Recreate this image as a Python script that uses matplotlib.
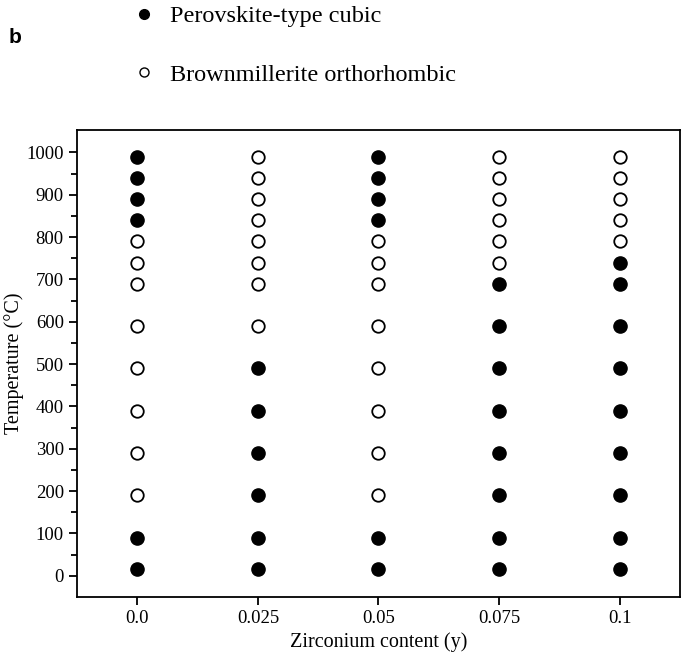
import matplotlib
matplotlib.use("Agg")
import matplotlib.pyplot as plt
import numpy as np

plt.rcParams['font.family'] = ['Liberation Serif', 'DejaVu Serif']

# zirconium content (categorical positions)
zr_labels = ['0.0', '0.025', '0.05', '0.075', '0.1']
temps = [990, 940, 890, 840, 790, 740, 690, 590, 490, 390, 290, 190, 90, 15]

# 1 = perovskite-type cubic, 0 = brownmillerite orthorhombic (same order as temps)
phase_00 = [1, 1, 1, 1, 0, 0, 0, 0, 0, 0, 0, 0, 1, 1]
phase_025 = [0, 0, 0, 0, 0, 0, 0, 0, 1, 1, 1, 1, 1, 1]
phase_05 = [1, 1, 1, 1, 0, 0, 0, 0, 0, 0, 0, 0, 1, 1]
phase_075 = [0, 0, 0, 0, 0, 0, 1, 1, 1, 1, 1, 1, 1, 1]
phase_10 = [0, 0, 0, 0, 0, 1, 1, 1, 1, 1, 1, 1, 1, 1]
phases = [phase_00, phase_025, phase_05, phase_075, phase_10]

fig = plt.figure(figsize=(6.85, 6.6), dpi=100)
ax = fig.add_axes([0.1124, 0.0955, 0.8803, 0.7075])

t = np.array(temps)
for i, ph in enumerate(phases):
    ph = np.array(ph)
    xs = np.full(len(t), i)
    ax.plot(xs[ph == 1], t[ph == 1], 'o', color='black', ms=9.5, mew=1)
    ax.plot(xs[ph == 0], t[ph == 0], 'o', mfc='white', mec='black', ms=9, mew=1.3)

ax.set_xlim(-0.5, 4.5)
ax.set_ylim(-50, 1053)
ax.set_xticks(range(len(zr_labels)))
ax.set_xticklabels(zr_labels)
ax.set_yticks(range(0, 1001, 100))
ax.set_yticks(range(50, 1001, 100), minor=True)
ax.tick_params(axis='both', direction='out', labelsize=13.5, width=1.3, length=6)
ax.tick_params(axis='y', which='minor', direction='out', width=1.3, length=4)
for s in ax.spines.values():
    s.set_linewidth(1.3)
ax.set_xlabel('Zirconium content (y)', fontsize=14.5)
ax.set_ylabel('Temperature (°C)', fontsize=14.5, labelpad=2)

# legend drawn above the axes
h1, = ax.plot([], [], 'o', color='black', ms=7)
h2, = ax.plot([], [], 'o', mfc='white', mec='black', ms=6.5, mew=1)
fig.legend([h1, h2], ['Perovskite-type cubic', 'Brownmillerite orthorhombic'],
           loc='upper left', bbox_to_anchor=(0.16, 1.025), frameon=False,
           fontsize=17.5, labelspacing=1.5, handletextpad=0.6, handlelength=1.0)

fig.text(0.012, 0.943, 'b', fontsize=15, fontweight='bold',
         family='Liberation Sans', va='center')

fig.savefig('out.png', dpi=100)
